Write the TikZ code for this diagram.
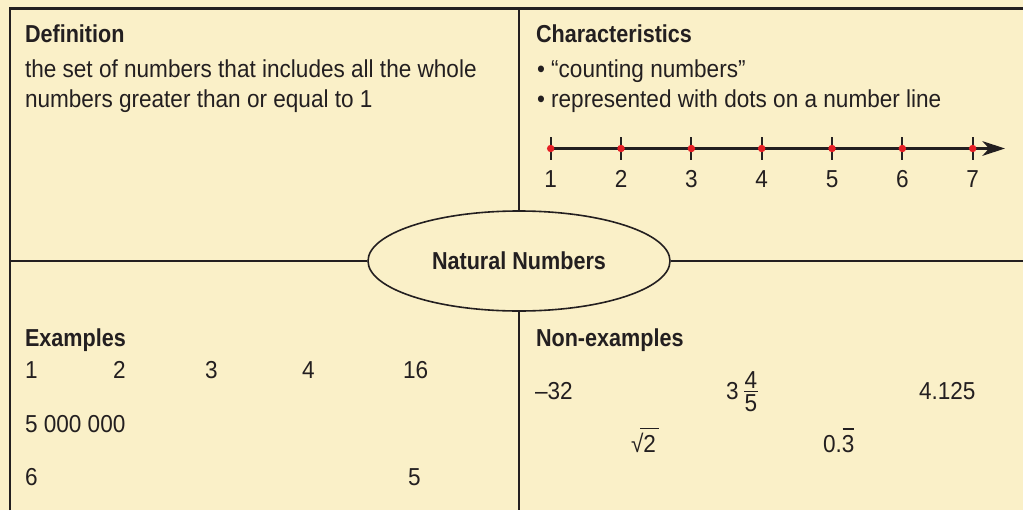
\documentclass[tikz,border=0pt]{standalone}
\usepackage{fontspec}
\setmainfont{Liberation Sans}[FakeStretch=0.92, BoldFeatures={FakeStretch=0.88}]
\usetikzlibrary{arrows.meta,shapes.geometric,calc}
\definecolor{bg}{RGB}{250,240,200}
\definecolor{ink}{RGB}{35,31,32}
\definecolor{dotred}{RGB}{230,30,36}
\begin{document}
\begin{tikzpicture}[x=0.75pt,y=-0.75pt,
  txt/.style={anchor=base west,inner sep=0,outer sep=0,text=ink,font=\fontsize{18.4}{22}\selectfont},
  ctxt/.style={anchor=base,inner sep=0,outer sep=0,text=ink,font=\fontsize{18.4}{22}\selectfont},
  hdr/.style={txt,font=\fontsize{18.4}{22}\selectfont\bfseries},
  rule/.style={draw=ink,line width=1.6pt},
  thin/.style={draw=ink,line width=1.2pt}]
\useasboundingbox (0,0) rectangle (1023,510);
\fill[bg] (0,0) rectangle (1023,510);
% frame coordinates
\coordinate (tl) at (10,8.5);
\coordinate (tr) at (1023,8.5);
\coordinate (bl) at (10,510);
\coordinate (tm) at (519,8.5);
\coordinate (bm) at (519,510);
\coordinate (ml) at (10,261);
\coordinate (mr) at (1023,261);
\draw[rule] (bl) -- (tl) -- (tr);
\draw[rule] (tm) -- (bm);
\node[ellipse,draw=ink,line width=1.2pt,fill=bg,minimum width=226.5pt,minimum height=75pt,inner sep=0] (ell) at (519,261) {};
\node[ctxt,anchor=center,font=\fontsize{18.4}{22}\selectfont\bfseries] (title) at (519,261) {Natural Numbers};
\draw[rule] (ml) -- (ell.west);
\draw[rule] (ell.east) -- (mr);
% Definition
\node[hdr] (defh) at (25,43) {Definition};
\node[txt] (def1) at (25,78) {the set of numbers that includes all the whole};
\node[txt] (def2) at (25,107) {numbers greater than or equal to 1};
% Characteristics
\node[hdr] (chh) at (536,43) {Characteristics};
\node[txt] (ch1) at (537,78) {\textbullet\ “counting numbers”};
\node[txt] (ch2) at (537,107) {\textbullet\ represented with dots on a number line};
% number line
\coordinate (nl0) at (550.7,148.5);
\coordinate (nl1) at (1005,148.5);
\draw[draw=ink,line width=1.6pt,-{Stealth[length=17pt,width=11pt,inset=5pt]}] (nl0) -- (nl1);
\foreach \i in {1,...,7}{
  \coordinate (t\i) at ({550.7+70.33*(\i-1)},148.5);
  \draw[draw=ink,line width=1.6pt] ($(t\i)+(0,-11.5)$) -- ($(t\i)+(0,11.5)$);
  \fill[dotred] (t\i) circle[radius=2.8pt];
  \node[ctxt] (l\i) at ({550.7+70.33*(\i-1)},187.5) {\i};
}
% Examples
\node[hdr] (exh) at (25,346) {Examples};
\node[txt] (e1) at (25,378) {1};
\node[txt] (e2) at (113,378) {2};
\node[txt] (e3) at (205,378) {3};
\node[txt] (e4) at (302,378) {4};
\node[txt] (e16) at (403,378) {16};
\node[txt] (e5m) at (25,432) {5 000 000};
\node[txt] (e6) at (25,485) {6};
\node[txt] (e5) at (408,485) {5};
% Non-examples
\node[hdr] (neh) at (536,346) {Non-examples};
\node[txt] (n32) at (535,399) {–32};
\node[txt] (n3) at (726,399) {3};
\node[ctxt] (n4) at (751,388) {4};
\node[ctxt] (n5) at (751,411) {5};
\draw[draw=ink,line width=0.9pt] (744,391.5) -- (758,391.5);
\node[txt] (n4125) at (919,399) {4.125};
\node[txt] (nsq) at (631,452) {√2};
\draw[draw=ink,line width=0.9pt] (640,428.8) -- (659,428.8);
\node[txt] (n03) at (823,452) {0.3};
\draw[draw=ink,line width=0.9pt] (842.5,429) -- (853.5,429);
\end{tikzpicture}
\end{document}
